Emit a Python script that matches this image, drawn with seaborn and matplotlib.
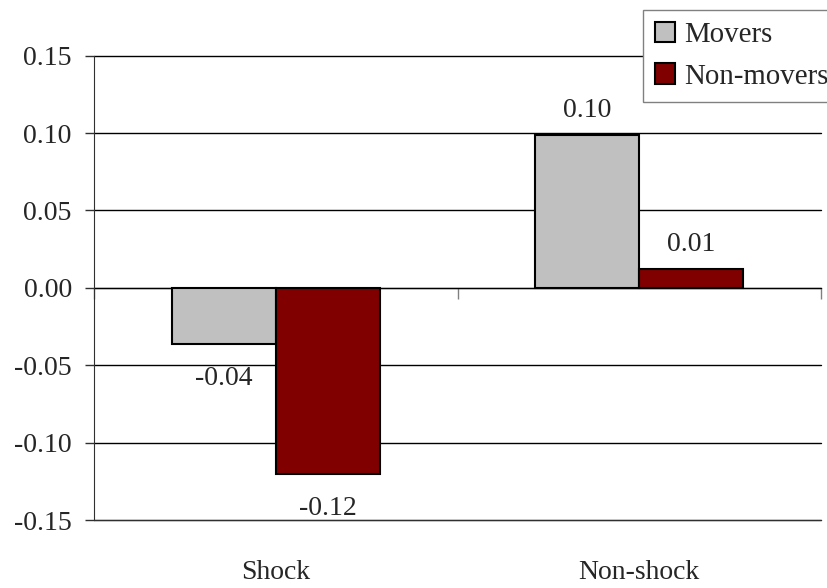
import pandas as pd
import seaborn as sns
from matplotlib import pyplot as plt
import matplotlib.ticker as ticker

groups = ["Shock", "Shock", "Non-shock", "Non-shock"]
series = ["Movers", "Non-movers", "Movers", "Non-movers"]
values = [-0.036, -0.120, 0.099, 0.012]
y_ticks = [-0.15, -0.10, -0.05, 0.00, 0.05, 0.10, 0.15]

palette = {"Movers": "#C0C0C0", "Non-movers": "#800000"}

sns.set_style("white")
plt.rcParams["font.family"] = ["Liberation Serif", "DejaVu Serif"]
plt.rcParams["font.size"] = 20

df = pd.DataFrame({"group": groups, "series": series, "value": values})

fig = plt.figure(figsize=(8.27, 5.88), dpi=100)
ax = fig.add_axes([94 / 827, 1 - 520 / 588, (821 - 94) / 827, (520 - 55.7) / 588])

sns.barplot(
    data=df, x="group", y="value", hue="series",
    order=["Shock", "Non-shock"], hue_order=["Movers", "Non-movers"],
    palette=palette, saturation=1, edgecolor="black", linewidth=1.5,
    width=0.572, errorbar=None, ax=ax, legend=False,
)

ax.set_ylim(-0.15, 0.15)
ax.set_xlim(-0.5, 1.5)
ax.set_yticks(y_ticks)
ax.yaxis.set_major_formatter(ticker.FuncFormatter(lambda v, _: f"{v:.2f}"))
ax.set_xlabel("")
ax.set_ylabel("")

ax.grid(axis="y", color="black", linewidth=1)
for gl in ax.get_ygridlines():
    gl.set_clip_on(False)
ax.set_axisbelow(True)

for side in ["top", "right"]:
    ax.spines[side].set_visible(False)
ax.spines["left"].set_color("#303030")
ax.spines["bottom"].set_color("#303030")

ax.tick_params(axis="y", direction="out", length=6.5, width=1, color="#303030",
               pad=9.5, left=True)
ax.tick_params(axis="x", length=0, pad=29)

# category axis crossing at zero with its tick marks
zero_axis = ax.secondary_xaxis(0.5)
zero_axis.set_xticks([-0.5, 0.5, 1.5])
zero_axis.xaxis.set_ticks_position("bottom")
zero_axis.tick_params(axis="x", direction="out", length=8, width=1, color="#808080",
                      bottom=True, top=False, labelbottom=False, labeltop=False)
for s in zero_axis.spines.values():
    s.set_color("#808080")
    s.set_linewidth(1)

# data labels
for bar in ax.patches:
    h = bar.get_height()
    if bar.get_width() == 0:
        continue
    x = bar.get_x() + bar.get_width() / 2
    if h >= 0:
        ax.annotate(f"{h:.2f}", (x, h), xytext=(0, 8.6), textcoords="offset points",
                    ha="center", va="bottom")
    else:
        ax.annotate(f"{h:.2f}", (x, h), xytext=(0, -16.5), textcoords="offset points",
                    ha="center", va="top")

handles = [plt.Rectangle((0, 0), 1, 1, facecolor=palette[s], edgecolor="black", linewidth=1.5)
           for s in ["Movers", "Non-movers"]]
leg = fig.legend(
    handles=handles, labels=["Movers", "Non-movers"],
    loc="upper left", bbox_to_anchor=(643 / 827, 1 - 10 / 588),
    frameon=True, fancybox=False, framealpha=1, edgecolor="#808080",
    fontsize=20.8, handlelength=0.7, handleheight=0.7, handletextpad=0.3,
    labelspacing=0.52, borderpad=0.42, borderaxespad=0,
)
leg.get_frame().set_linewidth(1)

fig.savefig("out.png", dpi=100)
